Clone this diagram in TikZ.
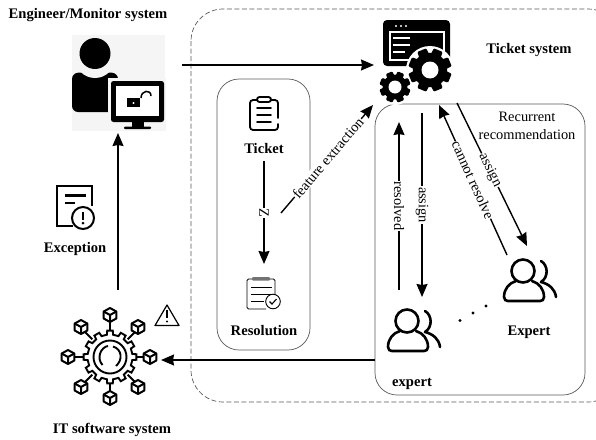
\documentclass[tikz,border=0pt]{standalone}
\usepackage{fontspec}
\setmainfont{Liberation Serif}
\usetikzlibrary{arrows.meta}
\tikzset{
  x=1pt,y=-1pt,
  conn/.style={draw=black,line width=1.4pt,-{Stealth[length=13pt,width=11pt,inset=1pt]}},
  title/.style={font=\fontsize{14.6}{16}\selectfont\bfseries,inner sep=0pt},
  lab/.style={font=\fontsize{14.4}{16}\selectfont,fill=white,inner sep=0.6pt},
  frame/.style={draw=black!65,line width=0.7pt,rounded corners=22pt},
  anchorbox/.style={inner sep=0pt,minimum width=#1,minimum height=#1},
}
\newcommand{\gearicon}[4]{% cx cy outer inner
  \foreach \a in {0,45,...,315}{
    \fill[black,shift={(#1,#2)},rotate=\a+22.5,rounded corners=1pt]
      (-0.3*#3,0) -- (-0.22*#3,-#3) -- (0.22*#3,-#3) -- (0.3*#3,0) -- cycle;}
  \fill[black] (#1,#2) circle[radius=0.8*#3];
  \fill[white] (#1,#2) circle[radius=#4];
}
\newcommand{\expertpic}[2]{% head centre
  \begin{scope}[shift={(#1,#2)},line width=2.6pt,line cap=round,line join=round]
    \draw (0,0) circle[radius=11.5];
    \draw (-7,10) .. controls (-14,12) and (-19,18) .. (-19,26) .. controls (-19,29) and (-17,30) .. (-15,30) -- (17,30) .. controls (19,30) and (21,29) .. (21,26) .. controls (21,18) and (16,12) .. (9,10);
    \draw (18,-10) .. controls (25,-6) and (26,6) .. (18,11) .. controls (26,13) and (32,18) .. (33,26);
  \end{scope}
}
\newcommand{\cubeicon}[2]{%
  \begin{scope}[shift={(#1,#2)},line width=2pt,line join=round]
    \draw[fill=white] (0,-7) -- (6.3,-3.5) -- (6.3,3.5) -- (0,7) -- (-6.3,3.5) -- (-6.3,-3.5) -- cycle;
    \draw (-6.3,-3.5) -- (0,0) -- (6.3,-3.5) (0,0) -- (0,7);
  \end{scope}
}
\begin{document}
\begin{tikzpicture}
\useasboundingbox (0,0) rectangle (596,439);
% frames
\draw[black!65,line width=0.7pt,dash pattern=on 5pt off 2.5pt,rounded corners=32pt] (191,9) rectangle (620,402);
\draw[frame] (217,79) rectangle (310,350);
\draw[frame] (375,104) rectangle (585,395);

% engineer icon
\fill[black!4] (72,35) rectangle (165,131);
\fill[black,rounded corners=6pt] (72,112) -- (72,73) -- (95,72) -- (118,73) -- (118,112) -- cycle;
\fill[black!4] (95,58) circle[radius=20];
\fill[black] (95,53.5) circle[radius=15.5];
\fill[black!4] (108,78) rectangle (166,131);
\fill[black,rounded corners=2.5pt] (111,81) rectangle (164,122);
\fill[white] (115.5,86) rectangle (159,116);
\fill[black] (132,122) rectangle (144,127);
\fill[black,rounded corners=1pt] (124,126.5) rectangle (151,129);
\fill[black] (127,98) rectangle (140,107);
\fill[white] (133.5,103) circle[radius=1.2];
\draw[black,line width=1.5pt] (141,98) .. controls (141,90) and (151,89) .. (151,96);
\node[anchorbox=90pt] (engineer) at (118,83) {};

% ticket system icon
\fill[black,rounded corners=4pt] (383,20) rectangle (450,66);
\draw[white,line width=1.2pt] (390,32) rectangle (444,60);
\foreach \p in {396,401,406}{\fill[white] (\p,26) circle[radius=1.1];}
\fill[white] (393,37) rectangle (410,39);
\fill[white] (393,44) rectangle (410,46);
\fill[white] (393,51) rectangle (405,53);
\fill[white] (430,70) circle[radius=24];
\fill[white] (395,87) circle[radius=18];
\gearicon{430}{70}{21.5}{8.5}
\gearicon{395}{87}{15.5}{6.5}
\node[anchorbox=70pt] (ticketsys) at (415,60) {};

% clipboard (Ticket)
\begin{scope}[line width=1.8pt,line cap=round]
\draw[rounded corners=3pt] (278,118) -- (278,100) -- (250,100) -- (250,130) -- (278,130) -- (278,124);
\draw[fill=white,rounded corners=2.5pt] (257,97) rectangle (271,102);
\draw (257,108) -- (271,108) (257,115) -- (271,115) (257,122) -- (271,122);
\end{scope}
\node[anchorbox=34pt] (ticketicon) at (264,114) {};
\node[title] (ticketlab) at (264,149) {Ticket};

% clipboard (Resolution)
\begin{scope}[line width=0.9pt]
\draw[rounded corners=1.5pt] (275,295) -- (275,279) -- (247,279) -- (247,309) -- (266,309);
\fill[black!55,rounded corners=1pt] (252,277) rectangle (270,280.5);
\draw (251,287) -- (272,287) (251,294) -- (272,294) (251,301) -- (264,301);
\draw (273,301.5) circle[radius=7.3];
\draw[line width=1.1pt] (269.5,301.5) -- (272,304) -- (276.5,299);
\end{scope}
\node[anchorbox=32pt] (resicon) at (263,294) {};
\node[title] (reslab) at (264,331) {Resolution};

% exception icon
\begin{scope}[line width=2pt]
\draw (73,226) -- (57,226) -- (57,185.5) -- (92,185.5) -- (92,206);
\fill[black] (65,194) rectangle (86,196.5);
\fill[black] (65,201.5) rectangle (75,204);
\draw (83,218) circle[radius=11];
\fill[black] (81.8,211.5) rectangle (84.2,219.5);
\fill[black] (83,223) circle[radius=1.5];
\end{scope}
\node[anchorbox=40pt] (excicon) at (75,206) {};
\node[title] (exclab) at (75,249) {Exception};

% IT system icon
\begin{scope}[shift={(110,357)}]
\foreach \a in {0,45,...,315}{
  \draw[line width=1.9pt] (\a:25) -- (\a:36);
}
\draw[line width=1.9pt,line join=miter,fill=white]
  (-8:22.5) \foreach \a in {0,30,...,330}{
    -- (\a-8:22.5) -- (\a-6:26.5) -- (\a+6:26.5) -- (\a+8:22.5) -- (\a+22:22.5)
  } -- cycle;
\draw[line width=1.9pt] (0,0) circle[radius=16.5];
\draw[line width=1.9pt] (-7.5,8) .. controls (-14,1) and (-9,-10) .. (-2,-11);
\draw[line width=1.9pt] (3,-10.5) .. controls (12,-8) and (13,3) .. (6,9);
\end{scope}
\cubeicon{110}{315}\cubeicon{138}{327}\cubeicon{150}{357}\cubeicon{138}{387}
\cubeicon{110}{398}\cubeicon{81}{387}\cubeicon{68}{357}\cubeicon{81}{327}
\node[anchorbox=80pt] (itsys) at (110,357) {};
\draw[line width=1.2pt,line join=round] (167,305) -- (155,325.5) -- (179,325.5) -- cycle;
\fill[black] (166.2,310) rectangle (167.8,318);
\fill[black] (167,321.5) circle[radius=1.2];
\node[title] (itlab) at (112,430) {IT software system};

% experts
\expertpic{407}{321}
\expertpic{523}{271}
\node[anchorbox=52pt] (expa) at (413,332) {};
\node[anchorbox=52pt] (expb) at (529,282) {};
\foreach \p/\q in {460/320.5,473/313,486/306}{\fill[black] (\p,\q) circle[radius=1.6];}

% titles
\node[title] (englab) at (88,15) {Engineer/Monitor system};
\node[title] (tslab) at (529,50) {Ticket system};
\node[title] (expalab) at (412,384) {expert};
\node[title] (expblab) at (529,332) {Expert};
\node[inner sep=0pt,align=center,font=\fontsize{14.4}{18}\selectfont] (recur) at (527,126) {Recurrent\\recommendation};

% connector ends
\coordinate (e1) at (182,65);
\coordinate (e2) at (374,65);
\coordinate (x1) at (118,290);
\coordinate (x2) at (118,133);
\coordinate (i1) at (375,360);
\coordinate (i2) at (161,360);
\coordinate (z1) at (264,161);
\coordinate (z2) at (264,264);
\coordinate (f1) at (281,213);
\coordinate (f2) at (373,105);
\coordinate (r1) at (399,290);
\coordinate (r2) at (399,122);
\coordinate (a1) at (422,113);
\coordinate (a2) at (422,297);
\coordinate (c1) at (507,255);
\coordinate (c2) at (439,105);
\coordinate (b1) at (457,103);
\coordinate (b2) at (527,246);

\draw[conn] (e1) -- (e2);
\draw[conn] (x1) -- (x2);
\draw[conn] (i1) -- (i2);
\draw[conn] (z1) -- node[lab,rotate=-90,pos=.5]{Z} (z2);
\draw[conn] (f1) -- node[lab,rotate=49.6,pos=.51]{feature extraction} (f2);
\draw[conn] (r1) -- node[lab,rotate=-90,pos=.5]{resolved} (r2);
\draw[conn] (a1) -- node[lab,rotate=-90,pos=.5]{assign} (a2);
\draw[conn] (c1) -- node[lab,rotate=-65.6,pos=.5]{cannot resolve} (c2);
\draw[conn] (b1) -- node[lab,rotate=-63.9,pos=.47]{assign} (b2);
\end{tikzpicture}
\end{document}
